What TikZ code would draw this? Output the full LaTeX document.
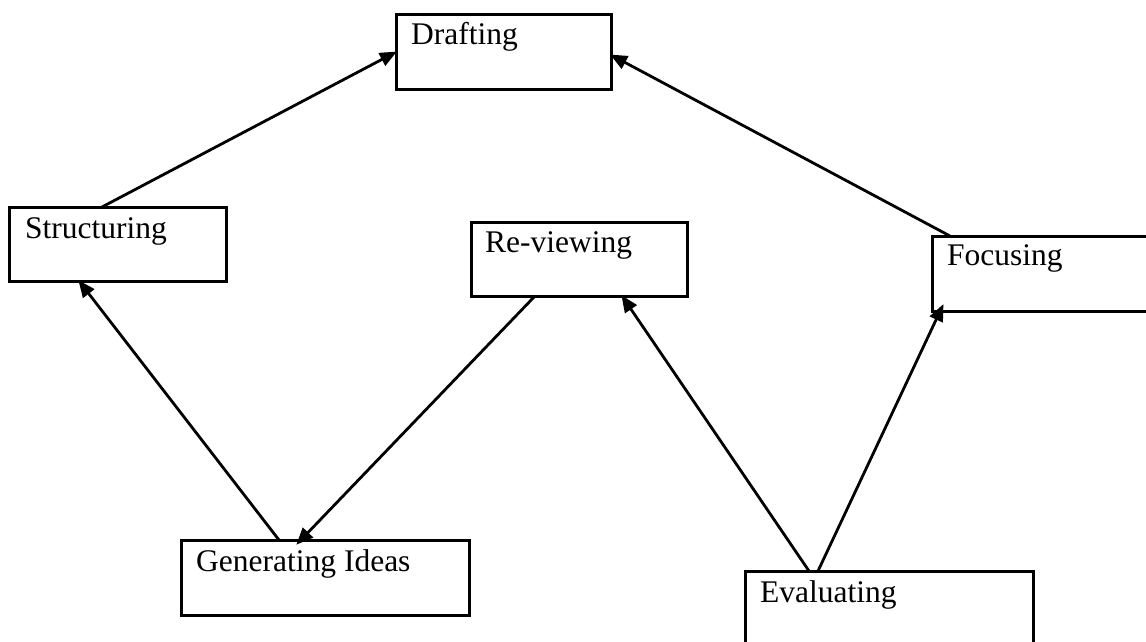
\documentclass[tikz,border=0pt]{standalone}
\usepackage{fontspec}
\setmainfont{Liberation Serif}
\usetikzlibrary{arrows.meta,calc}
\tikzset{
  box/.style={draw=black, line width=3pt, inner sep=0pt, outer sep=0pt, anchor=north west, fill=none},
  txt/.style={anchor=base west, inner sep=0pt, font=\fontsize{31.5}{36}\selectfont},
  conn/.style={line width=2.8pt, -{Triangle[length=17pt,width=14pt]}, shorten >=-1pt},
}
\begin{document}
\begin{tikzpicture}[x=1pt,y=-1pt]
\clip (0,0) rectangle (1146,642);
\fill[white] (0,0) rectangle (1146,642);
% boxes
\node[box, minimum width=215, minimum height=74] (d) at (396,15) {};
\node[box, minimum width=217, minimum height=74] (s) at (9,207) {};
\node[box, minimum width=216, minimum height=74] (r) at (471,222) {};
\node[box, minimum width=240, minimum height=75] (f) at (932,236) {};
\node[box, minimum width=288, minimum height=75] (g) at (181,540) {};
\node[box, minimum width=288, minimum height=90] (e) at (745,571) {};
% texts
\node[txt] (dt) at ([xshift=15pt,yshift=-30pt]d.north west) {Drafting};
\node[txt] (st) at ([xshift=16pt,yshift=-31pt]s.north west) {Structuring};
\node[txt] (rt) at ([xshift=14pt,yshift=-30pt]r.north west) {Re-viewing};
\node[txt] (ft) at ([xshift=15pt,yshift=-29pt]f.north west) {Focusing};
\node[txt] (gt) at ([xshift=15pt,yshift=-31pt]g.north west) {Generating Ideas};
\node[txt] (et) at ([xshift=15pt,yshift=-31pt]e.north west) {Evaluating};
% connectors
\draw[conn] ([xshift=93pt]s.north west) -- ([yshift=-37pt]d.north west);
\draw[conn] ([xshift=18pt]f.north west) -- ([yshift=-40pt]d.north east);
\draw[conn] ([xshift=98pt]g.north west) -- ([xshift=70pt]s.south west);
\draw[conn] ([xshift=64pt]r.south west) -- ([xshift=116pt,yshift=-4pt]g.north west);
\draw[conn] ([xshift=64pt]e.north west) -- ([xshift=151pt]r.south west);
\draw[conn] ([xshift=73pt]e.north west) -- ([xshift=11pt,yshift=6pt]f.south west);
\end{tikzpicture}
\end{document}
